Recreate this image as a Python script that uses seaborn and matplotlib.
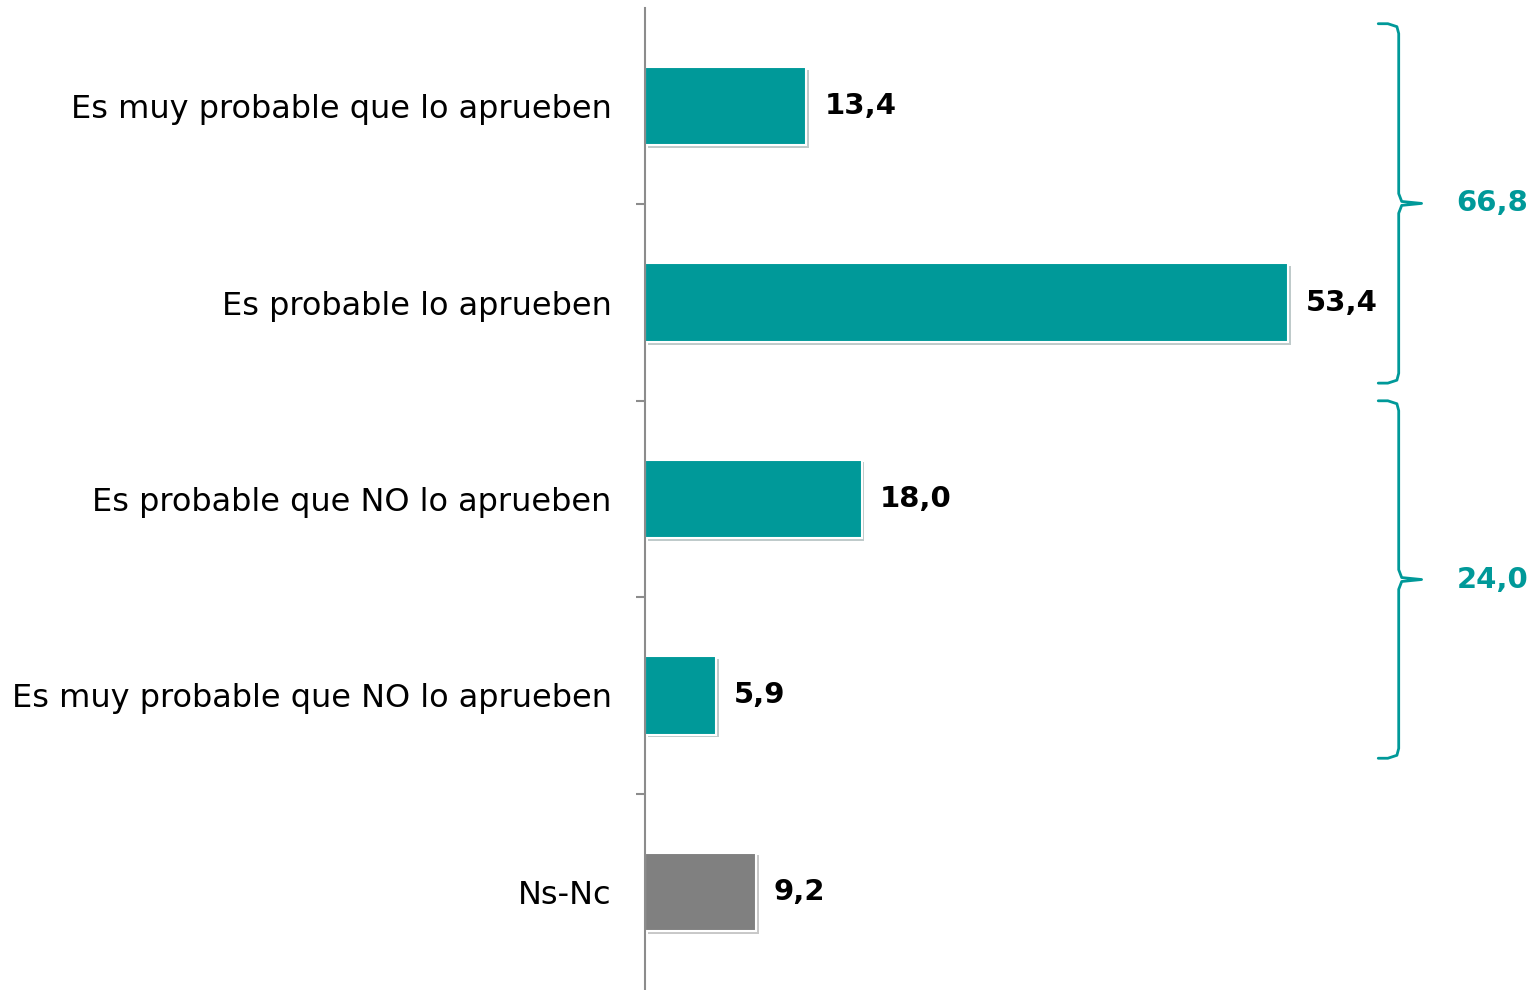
import matplotlib
matplotlib.use('Agg')
import matplotlib.pyplot as plt
import matplotlib.patheffects as pe
import seaborn as sns
import pandas as pd

categorias = ['Es muy probable que lo aprueben',
              'Es probable lo aprueben',
              'Es probable que NO lo aprueben',
              'Es muy probable que NO lo aprueben',
              'Ns-Nc']
valores = [13.4, 53.4, 18.0, 5.9, 9.2]
colores = ['#009999', '#009999', '#009999', '#009999', '#808080']
totales = [66.8, 24.0]
# extension vertical de cada llave (en unidades de categoria)
llaves = [(-0.42, 1.41), (1.50, 3.32)]

teal = '#009999'

sns.set_style('white')
plt.rcParams['font.family'] = ['DejaVu Sans']

df = pd.DataFrame({'cat': categorias, 'val': valores})

fig = plt.figure(figsize=(15.39, 9.9), dpi=100)
ax = fig.add_axes([645/1539, 0.0, 1 - 645/1539, 1 - 8/990])

sns.barplot(data=df, y='cat', x='val', hue='cat', palette=dict(zip(categorias, colores)),
            orient='h', width=0.4, legend=False, ax=ax, saturation=1)

for p in ax.patches:
    p.set_edgecolor('white')
    p.set_linewidth(1.5)
    p.set_path_effects([pe.SimplePatchShadow(offset=(2, -2), alpha=0.25), pe.Normal()])

for c in ax.containers:
    ax.bar_label(c, labels=[f'{v:.1f}'.replace('.', ',') for v in c.datavalues],
                 padding=13, fontsize=21, fontweight='bold', color='black')

ax.set_xlim(0, (1539 - 645) / 12.04)
ax.set_ylim(len(categorias) - 0.5, -0.5)
ax.set_xlabel('')
ax.set_ylabel('')
ax.set_xticks([])

for s in ['top', 'right', 'bottom']:
    ax.spines[s].set_visible(False)
ax.spines['left'].set_color('#8c8c8c')
ax.spines['left'].set_linewidth(1.5)

ax.tick_params(axis='y', which='major', length=0, pad=24, labelsize=23, labelcolor='black')
ax.set_yticks([i + 0.5 for i in range(len(categorias) - 1)], minor=True)
ax.tick_params(axis='y', which='minor', left=True, length=6.5, width=1.5,
               color='#8c8c8c', direction='out')

# llaves de agrupacion
xv, xe, xt = 62.6, 60.9, 64.5
for (y0, y1), total in zip(llaves, totales):
    ym = (y0 + y1) / 2
    ys = [y0, y0, y0 + 0.015, y0 + 0.05, ym - 0.05, ym - 0.01, ym, ym + 0.01, ym + 0.05,
          y1 - 0.05, y1 - 0.015, y1, y1]
    xs = [xe, xv - 0.9, xv - 0.15, xv, xv, xv + 0.25, xt, xv + 0.25, xv,
          xv, xv - 0.15, xv - 0.9, xe]
    ax.plot(xs, ys, color=teal, lw=2, clip_on=False, solid_joinstyle='round')
    ax.text(67.4, ym, f'{total:.1f}'.replace('.', ','), color=teal, fontsize=21,
            fontweight='bold', va='center', ha='left', clip_on=False)

fig.savefig('out.png', dpi=100)
